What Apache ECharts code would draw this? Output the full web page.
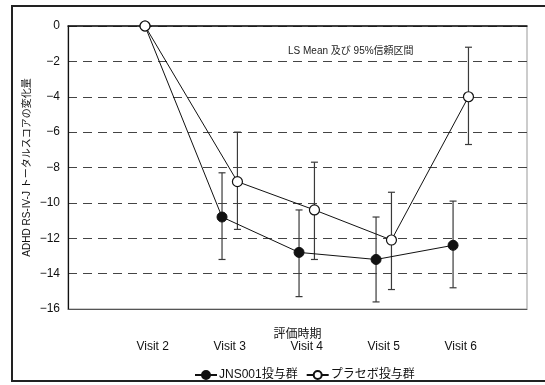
<!DOCTYPE html>
<html>
<head>
<meta charset="utf-8">
<script src="https://cdn.jsdelivr.net/npm/echarts@6/dist/echarts.min.js"></script>
<style>
html,body{margin:0;padding:0;background:#fff;}
#chart{width:545px;height:385px;}
</style>
</head>
<body>
<div id="chart"></div>
<script>
const categories = ['Visit 2', 'Visit 3', 'Visit 4', 'Visit 5', 'Visit 6'];
const seriesNames = ['JNS001投与群', 'プラセボ投与群'];
const jnsMean = [0, -10.8, -12.8, -13.2, -12.4];
const jnsLow  = [null, -13.2, -15.3, -15.6, -14.8];
const jnsHigh = [null, -8.3, -10.4, -10.8, -9.9];
const plcMean = [0, -8.8, -10.4, -12.1, -4.0];
const plcLow  = [null, -11.5, -13.2, -14.9, -6.7];
const plcHigh = [null, -6.0, -7.7, -9.4, -1.2];
const yTicks = [0, -2, -4, -6, -8, -10, -12, -14, -16];
const yAxisTitle = 'ADHD RS-IV-J トータルスコアの変化量';
const xAxisTitle = '評価時期';
const noteText = 'LS Mean 及び 95%信頼区間';

// side-by-side shift of the two groups within a visit (baseline point is shared)
const jnsShift = [-0.1, -0.1, -0.1, -0.1, -0.1];
const plcShift = [-0.1, 0.1, 0.1, 0.1, 0.1];

const FONT = '"Liberation Sans", "Noto Sans CJK JP", sans-serif';

function pts(mean, shift) {
  return mean.map((v, i) => [i + shift[i], v]);
}
function bars(low, high, shift) {
  const out = [];
  low.forEach((l, i) => { if (l !== null) out.push([i + shift[i], l, high[i]]); });
  return out;
}
function errRender(params, api) {
  const x = api.value(0);
  const lo = api.coord([x, api.value(1)]);
  const hi = api.coord([x, api.value(2)]);
  const cap = 3.5;
  const st = { stroke: '#3a3a3a', lineWidth: 1.2 };
  return {
    type: 'group',
    children: [
      { type: 'line', shape: { x1: lo[0], y1: lo[1], x2: hi[0], y2: hi[1] }, style: st },
      { type: 'line', shape: { x1: lo[0] - cap, y1: lo[1], x2: lo[0] + cap, y2: lo[1] }, style: st },
      { type: 'line', shape: { x1: hi[0] - cap, y1: hi[1], x2: hi[0] + cap, y2: hi[1] }, style: st }
    ]
  };
}

const chart = echarts.init(document.getElementById('chart'), null, { renderer: 'canvas' });
chart.setOption({
  animation: false,
  backgroundColor: '#fff',
  textStyle: { fontFamily: FONT },
  grid: { left: 68, top: 26, right: 18, bottom: 76, show: true, borderColor: '#999', borderWidth: 1, containLabel: false },
  graphic: [
    { type: 'rect', shape: { x: 12, y: 6, width: 545, height: 375 }, style: { fill: 'none', stroke: '#222', lineWidth: 2 }, z: 0, silent: true },
    { type: 'text', left: 288, top: 46, style: { text: noteText, font: '10px ' + FONT, fill: '#222' } }
  ],
  legend: {
    bottom: 4,
    left: 194,
    padding: 0,
    itemWidth: 22,
    itemHeight: 10,
    itemGap: 8,
    data: seriesNames,
    textStyle: { fontSize: 12, color: '#111', fontFamily: FONT, padding: [0, 0, 0, -3] }
  },
  xAxis: [
    {
      type: 'value',
      min: -1.1,
      max: 4.86,
      name: xAxisTitle,
      nameLocation: 'middle',
      nameGap: 20,
      nameMoveOverlap: false,
      nameTextStyle: { fontSize: 12, color: '#111', fontFamily: FONT },
      axisLine: { show: true, onZero: false, lineStyle: { color: '#555', width: 1 } },
      axisTick: { show: false },
      splitLine: { show: false },
      axisLabel: {
        customValues: [0, 1, 2, 3, 4],
        margin: 32,
        fontSize: 12,
        color: '#111',
        fontFamily: FONT,
        formatter: v => categories[Math.round(v)] || ''
      }
    },
    {
      type: 'value',
      position: 'top',
      min: -1.1,
      max: 4.86,
      axisLine: { show: true, onZero: false, lineStyle: { color: '#111', width: 1.5 } },
      axisTick: { show: false },
      axisLabel: { show: false },
      splitLine: { show: false }
    }
  ],
  yAxis: {
    type: 'value',
    min: -16,
    max: 0,
    interval: 2,
    name: yAxisTitle,
    nameLocation: 'middle',
    nameGap: 36,
    nameRotate: 90,
    nameMoveOverlap: false,
    nameTextStyle: { fontSize: 10, color: '#111', fontFamily: FONT },
    axisLine: { show: true, onZero: false, lineStyle: { color: '#111', width: 1.2 } },
    axisTick: { show: false },
    axisLabel: { margin: 8, fontSize: 12, color: '#111', fontFamily: FONT,
      formatter: v => yTicks.includes(v) ? String(v).replace('-', '\u2212') : '' },
    splitLine: { show: true, lineStyle: { color: '#444', type: [9, 6], width: 1 } }
  },
  series: [
    {
      name: seriesNames[0], type: 'line', xAxisIndex: 0,
      data: pts(jnsMean, jnsShift),
      symbol: 'circle', symbolSize: 10,
      itemStyle: { color: '#111', borderColor: '#111', borderWidth: 1 },
      lineStyle: { color: '#111', width: 1 },
      z: 4
    },
    {
      name: seriesNames[1], type: 'line', xAxisIndex: 0,
      data: pts(plcMean, plcShift),
      symbol: 'circle', symbolSize: 10,
      itemStyle: { color: '#fff', borderColor: '#111', borderWidth: 1.2 },
      lineStyle: { color: '#111', width: 1 },
      z: 5
    },
    {
      type: 'custom', xAxisIndex: 0, renderItem: errRender,
      data: bars(jnsLow, jnsHigh, jnsShift), z: 3, silent: true
    },
    {
      type: 'custom', xAxisIndex: 0, renderItem: errRender,
      data: bars(plcLow, plcHigh, plcShift), z: 3, silent: true
    }
  ]
});
</script>
</body>
</html>
